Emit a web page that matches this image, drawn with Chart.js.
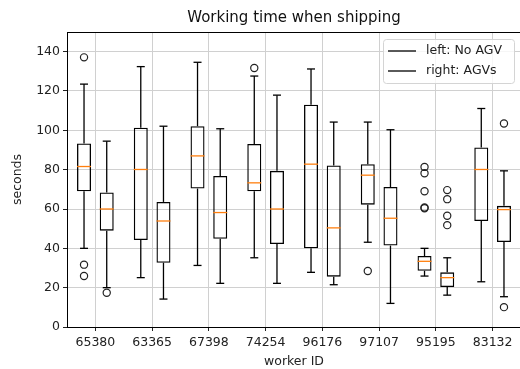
<!DOCTYPE html>
<html>
<head>
<meta charset="utf-8">
<script src="https://cdn.jsdelivr.net/npm/chart.js@4"></script>
<style>
  html, body { margin: 0; padding: 0; background: #fff; overflow: hidden; }
  canvas { display: block; }
</style>
</head>
<body>
<canvas id="myChart" width="530" height="369"></canvas>
<script>
// worker IDs on the x axis
const workerIds = ['65380', '63365', '67398', '74254', '96176', '97107', '95195', '83132'];
const legendLabels = ['left: No AGV', 'right: AGVs'];

// left boxes: no AGV
const noAgvLow  = [40.0, 25.1, 31.3, 35.2, 27.8, 43.1, 25.9, 23.0];
const noAgvQ1   = [69.0, 44.2, 70.4, 69.0, 40.0, 62.2, 28.6, 53.9];
const noAgvMed  = [81.6, 80.1, 87.0, 73.3, 82.8, 77.2, 33.4, 80.1];
const noAgvQ3   = [93.3, 101.3, 102.1, 93.1, 113.0, 82.8, 36.1, 91.3];
const noAgvHigh = [123.5, 132.4, 134.6, 127.6, 131.2, 104.2, 40.0, 111.1];
const noAgvFliers = [[137.1, 31.7, 25.9], [], [], [131.7], [], [28.5], [81.4, 78.2, 69.0, 60.8, 60.4], []];

// right boxes: AGVs
const agvLow  = [20.0, 14.2, 22.2, 22.2, 21.5, 12.0, 16.2, 15.4];
const agvQ1   = [49.0, 32.7, 44.9, 42.2, 25.6, 41.4, 20.3, 43.2];
const agvMed  = [60.0, 53.9, 58.2, 60.0, 50.4, 55.3, 25.1, 59.7];
const agvQ3   = [68.4, 63.6, 76.8, 79.4, 82.1, 71.2, 27.8, 61.6];
const agvHigh = [94.5, 102.1, 100.8, 117.9, 104.2, 100.3, 35.2, 79.4];
const agvFliers = [[17.4], [], [], [], [], [], [69.6, 65.0, 56.6, 51.8], [103.5, 10.1]];

const yTicks = [0, 20, 40, 60, 80, 100, 120, 140];

Chart.defaults.font.family = "'DejaVu Sans', sans-serif";
Chart.defaults.font.size = 12.5;
Chart.defaults.color = '#222';

const SHIFT = 0.2; // left/right offset of the boxes inside a group
const gridColor = '#d0d0d0';

function groupDatasets(low, q1, med, q3, high, fliers, shift) {
  const xs = workerIds.map((_, i) => i + 1 + shift);
  const whisker = {
    type: 'bar', grouped: false, order: 3,
    barThickness: 1.3, backgroundColor: '#000', borderWidth: 0, inflateAmount: 0,
  };
  const cap = {
    type: 'scatter', order: 2, pointStyle: 'line', pointRadius: 4,
    borderColor: '#000', borderWidth: 1.3,
  };
  return [
    { ...whisker, data: xs.map((x, i) => ({ x, y: [low[i], q1[i]] })) },
    { ...whisker, data: xs.map((x, i) => ({ x, y: [q3[i], high[i]] })) },
    { ...cap, data: xs.map((x, i) => ({ x, y: low[i] })) },
    { ...cap, data: xs.map((x, i) => ({ x, y: high[i] })) },
    {
      type: 'bar', grouped: false, order: 1,
      barThickness: 14, backgroundColor: 'rgba(0,0,0,0)', borderColor: '#000',
      borderWidth: 1.3, borderSkipped: false, inflateAmount: 0,
      data: xs.map((x, i) => ({ x, y: [q1[i], q3[i]] })),
    },
    {
      type: 'scatter', order: 0, pointStyle: 'line', pointRadius: 7,
      borderColor: '#ff7f0e', borderWidth: 1.3,
      data: xs.map((x, i) => ({ x, y: med[i] })),
    },
    {
      type: 'scatter', order: 0, pointStyle: 'circle', pointRadius: 3.6,
      borderColor: '#222', borderWidth: 1.2, backgroundColor: 'rgba(0,0,0,0)',
      data: fliers.flatMap((vals, i) => vals.map(v => ({ x: xs[i], y: v }))),
    },
  ];
}

// top spine and the legend box
const framePlugin = {
  id: 'frame',
  afterDraw(chart) {
    const { ctx, chartArea: a } = chart;
    ctx.save();
    ctx.strokeStyle = '#000';
    ctx.lineWidth = 1;
    ctx.beginPath();
    ctx.moveTo(a.left, a.top + 0.5);
    ctx.lineTo(a.right, a.top + 0.5);
    ctx.stroke();

    const w = 131, h = 44;
    const lx = a.right - 7 - w, ly = a.top + 7;
    ctx.beginPath();
    ctx.roundRect(lx + 0.5, ly + 0.5, w, h, 3);
    ctx.fillStyle = 'rgba(255,255,255,0.8)';
    ctx.fill();
    ctx.strokeStyle = '#d4d4d4';
    ctx.stroke();

    ctx.font = "12.5px 'DejaVu Sans', sans-serif";
    ctx.textBaseline = 'middle';
    ctx.textAlign = 'left';
    legendLabels.forEach((label, i) => {
      const rowY = ly + 12 + i * 20;
      ctx.beginPath();
      ctx.strokeStyle = '#000';
      ctx.lineWidth = 1.3;
      ctx.moveTo(lx + 5, rowY);
      ctx.lineTo(lx + 33, rowY);
      ctx.stroke();
      ctx.fillStyle = '#222';
      ctx.fillText(label, lx + 43, rowY);
    });
    ctx.restore();
  }
};

const ctx = document.getElementById('myChart').getContext('2d');
new Chart(ctx, {
  type: 'bar',
  data: {
    datasets: [
      ...groupDatasets(noAgvLow, noAgvQ1, noAgvMed, noAgvQ3, noAgvHigh, noAgvFliers, -SHIFT),
      ...groupDatasets(agvLow, agvQ1, agvMed, agvQ3, agvHigh, agvFliers, SHIFT),
    ],
  },
  options: {
    responsive: false,
    animation: false,
    events: [],
    layout: { padding: { left: 0, right: 9, top: 0, bottom: 0 } },
    plugins: {
      legend: { display: false },
      tooltip: { enabled: false },
      title: {
        display: true,
        fullSize: false,
        text: 'Working time when shipping',
        color: '#111',
        font: { size: 15, weight: 'normal' },
        padding: { top: 9.5, bottom: 4.5 },
      },
    },
    scales: {
      x: {
        type: 'linear', min: 0.5, max: 8.5, bounds: 'data', offset: false,
        afterBuildTicks: s => { s.ticks = workerIds.map((_, i) => ({ value: i + 1 })); },
        ticks: {
          autoSkip: false, maxRotation: 0, padding: 4,
          callback: v => workerIds[Math.round(v) - 1],
        },
        grid: { offset: false, color: gridColor, tickColor: '#222', tickLength: 4 },
        border: { color: '#000', width: 1 },
        title: { display: true, text: 'worker ID', padding: { top: 0, bottom: 0 } },
        afterFit: s => { s.height = 42; },
      },
      y: {
        type: 'linear', min: 0, max: 150, bounds: 'data',
        afterBuildTicks: s => { s.ticks = yTicks.map(v => ({ value: v })); },
        ticks: { padding: 3 },
        grid: { color: gridColor, tickColor: '#222', tickLength: 4 },
        border: { color: '#000', width: 1 },
        title: { display: true, text: 'seconds', padding: { top: 10, bottom: 0 } },
        afterFit: s => { s.width = 67; },
      },
    },
  },
  plugins: [framePlugin],
});
</script>
</body>
</html>
